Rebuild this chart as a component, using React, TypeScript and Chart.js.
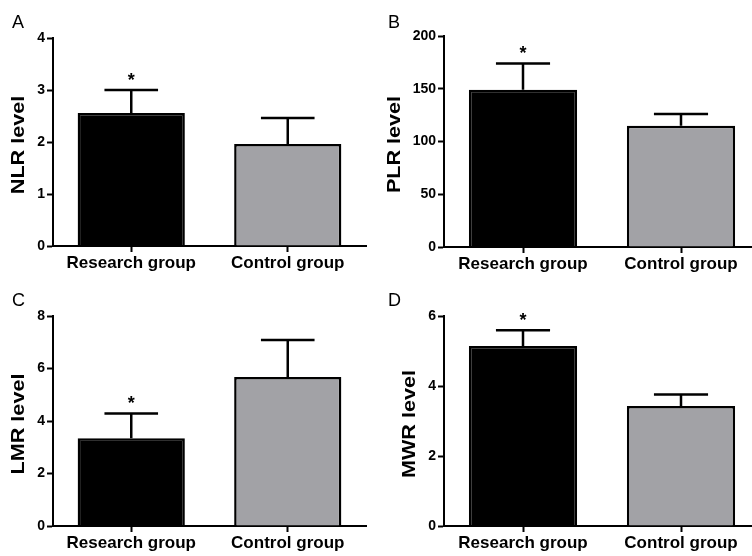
import React, { useEffect, useRef } from 'react';
import { Chart, registerables } from 'chart.js';

Chart.register(...registerables);

const FONT = '"Liberation Sans", Arial, Helvetica, sans-serif';

// ---- data ----
const categories = ['Research group', 'Control group'];

const nlrMeans = [2.56, 1.96];
const nlrErrors = [0.44, 0.5];

const plrMeans = [149, 115];
const plrErrors = [25, 11];

const lmrMeans = [3.34, 5.68];
const lmrErrors = [0.95, 1.41];

const mwrMeans = [5.14, 3.43];
const mwrErrors = [0.45, 0.33];

const significant = [true, false];

const nlrTicks = { max: 4, step: 1 };
const plrTicks = { max: 200, step: 50 };
const lmrTicks = { max: 8, step: 2 };
const mwrTicks = { max: 6, step: 2 };

const barColors = ['#000000', '#a2a2a6'];

type PanelSpec = {
  letter: string;
  title: string;
  means: number[];
  errors: number[];
  max: number;
  step: number;
  x0: number;
  y0: number;
  w: number;
  h: number;
  yWidth: number;
  padRight: number;
  padTop: number;
  xAxisH: number;
  titleX: number;
  letterX: number;
};

const panels: PanelSpec[] = [
  { letter: 'A', title: 'NLR level', means: nlrMeans, errors: nlrErrors, max: nlrTicks.max, step: nlrTicks.step,
    x0: 0, y0: 0, w: 376, h: 278, yWidth: 53, padRight: 10, padTop: 38, xAxisH: 32, titleX: 19, letterX: 12 },
  { letter: 'B', title: 'PLR level', means: plrMeans, errors: plrErrors, max: plrTicks.max, step: plrTicks.step,
    x0: 376, y0: 0, w: 384, h: 278, yWidth: 68, padRight: 0, padTop: 36, xAxisH: 31, titleX: 19, letterX: 12 },
  { letter: 'C', title: 'LMR level', means: lmrMeans, errors: lmrErrors, max: lmrTicks.max, step: lmrTicks.step,
    x0: 0, y0: 278, w: 376, h: 278, yWidth: 53, padRight: 10, padTop: 38, xAxisH: 30, titleX: 19, letterX: 12 },
  { letter: 'D', title: 'MWR level', means: mwrMeans, errors: mwrErrors, max: mwrTicks.max, step: mwrTicks.step,
    x0: 376, y0: 278, w: 384, h: 278, yWidth: 68, padRight: 0, padTop: 38, xAxisH: 30, titleX: 34, letterX: 12 },
];

function Panel({ spec }: { spec: PanelSpec }) {
  const ref = useRef<HTMLCanvasElement | null>(null);

  useEffect(() => {
    if (!ref.current) return;
    const decor = {
      id: 'decor' + spec.letter,
      afterDatasetsDraw(chart: any) {
        const ctx = chart.ctx;
        const meta = chart.getDatasetMeta(0);
        const yScale = chart.scales.y;
        ctx.save();
        ctx.strokeStyle = '#000';
        ctx.lineWidth = 2.5;
        meta.data.forEach((bar: any, i: number) => {
          const top = yScale.getPixelForValue(spec.means[i] + spec.errors[i]);
          const base = bar.y;
          const half = bar.width / 4;
          ctx.beginPath();
          ctx.moveTo(bar.x, base);
          ctx.lineTo(bar.x, top);
          ctx.moveTo(bar.x - half, top);
          ctx.lineTo(bar.x + half, top);
          ctx.stroke();
          if (significant[i]) {
            ctx.fillStyle = '#000';
            ctx.font = `bold 18px ${FONT}`;
            ctx.textAlign = 'center';
            ctx.textBaseline = 'alphabetic';
            ctx.fillText('*', bar.x, top - 4);
          }
        });
        ctx.restore();
      },
      afterDraw(chart: any) {
        const ctx = chart.ctx;
        const area = chart.chartArea;
        ctx.save();
        ctx.fillStyle = '#000';
        ctx.font = `18px ${FONT}`;
        ctx.textAlign = 'left';
        ctx.textBaseline = 'alphabetic';
        ctx.fillText(spec.letter, spec.letterX, 28);
        ctx.translate(spec.titleX, (area.top + area.bottom) / 2 + 3);
        ctx.rotate(-Math.PI / 2);
        ctx.scale(1.2, 1);
        ctx.font = `bold 18px ${FONT}`;
        ctx.textAlign = 'center';
        ctx.textBaseline = 'middle';
        ctx.fillText(spec.title, 0, 0);
        ctx.restore();
      },
    };

    const chart = new Chart(ref.current, {
      type: 'bar',
      data: {
        labels: categories,
        datasets: [
          {
            data: spec.means,
            backgroundColor: barColors,
            borderColor: '#000',
            borderWidth: 2.5,
            barPercentage: 0.685,
            categoryPercentage: 1,
          },
        ],
      },
      options: {
        responsive: false,
        animation: false,
        devicePixelRatio: 1,
        layout: { padding: { left: 0, top: spec.padTop, right: spec.padRight, bottom: 0 } },
        plugins: { legend: { display: false }, tooltip: { enabled: false }, title: { display: false } },
        scales: {
          x: {
            type: 'category',
            offset: true,
            grid: { display: true, drawOnChartArea: false, offset: false, tickLength: 6, tickWidth: 2, tickColor: '#000' },
            border: { display: true, color: '#000', width: 2 },
            ticks: { color: '#000', font: { family: FONT, size: 17, weight: 'bold' }, padding: 1, maxRotation: 0, autoSkip: false },
            afterFit: (s: any) => { s.height = spec.xAxisH; },
          },
          y: {
            min: 0,
            max: spec.max,
            grid: { display: true, drawOnChartArea: false, tickLength: 6, tickWidth: 2, tickColor: '#000' },
            border: { display: true, color: '#000', width: 2 },
            ticks: { stepSize: spec.step, color: '#000', font: { family: FONT, size: 14, weight: 'bold' }, padding: 2 },
            afterFit: (s: any) => { s.width = spec.yWidth; },
          },
        },
      } as any,
      plugins: [decor],
    });
    return () => chart.destroy();
  }, [spec]);

  return (
    <canvas
      ref={ref}
      width={spec.w}
      height={spec.h}
      style={{ position: 'absolute', left: spec.x0, top: spec.y0, width: spec.w, height: spec.h }}
    />
  );
}

export default function App() {
  return (
    <div
      style={{
        position: 'absolute',
        left: 0,
        top: 0,
        width: 752,
        height: 556,
        overflow: 'hidden',
        background: '#fff',
      }}
    >
      {panels.map((p) => (
        <Panel key={p.letter} spec={p} />
      ))}
    </div>
  );
}
